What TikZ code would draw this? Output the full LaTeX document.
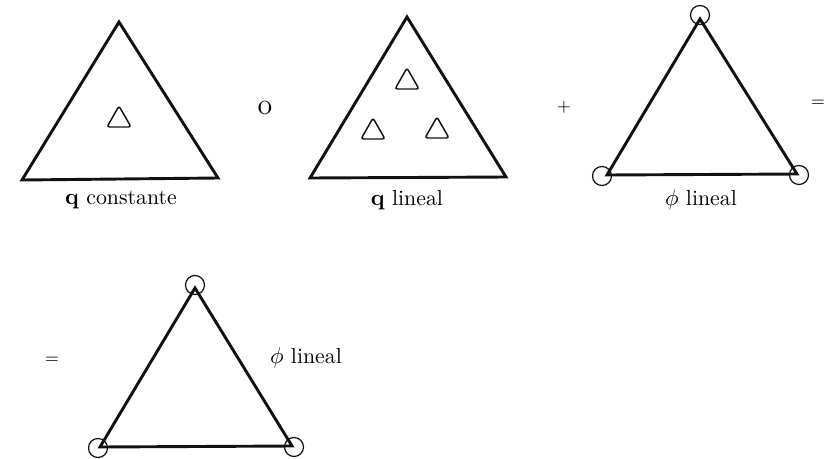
\documentclass[tikz,border=0pt]{standalone}
\usepackage{amsmath,amssymb}
\usepackage{tikz}
\usetikzlibrary{calc}

\begin{document}
\begin{tikzpicture}[
    x={(0.0169cm,0cm)}, y={(0cm,-0.0169cm)},
    every node/.style={font=\fontsize{10.5pt}{12pt}\selectfont, inner sep=1pt},
  ]
    \definecolor{trazo}{HTML}{111111}
    \useasboundingbox (0,0) rectangle (830,459);

    % elemento grande: vertice superior y vertices de la base
    \newcommand{\elemento}[6]{%
      \draw[trazo, line width=1.4pt, line join=miter]
        (#1,#2) -- (#3,#4) -- (#5,#6) -- cycle;
    }
    % punto de cuadratura: triangulito redondeado (vertice superior)
    \newcommand{\punto}[2]{%
      \draw[trazo, line width=0.7pt, rounded corners=1.2pt]
        (#1,#2) -- (#1+12,#2+21) -- (#1-12,#2+21) -- cycle;
    }
    % nodo del elemento: circulo con marca en el vertice
    \newcommand{\nodo}[2]{%
      \draw[trazo, line width=0.6pt] (#1,#2) circle (9.5);
    }

    % -------- q constante --------
    \elemento{119}{22}{22}{180}{218}{178}
    \punto{119}{106}
    \node (qconst) at (121,200) {$\mathbf{q}$ constante};

    \node[font=\Large] (o) at (265,108) {o};

    % -------- q lineal --------
    \elemento{407}{17}{310}{178}{506}{177}
    \foreach \px/\py in {407/68, 373/118, 437/117} {
      \punto{\px}{\py}
    }
    \node (qlin) at (407,200) {$\mathbf{q}$ lineal};

    \node[font=\footnotesize] (mas) at (564,107) {+};

    % -------- phi lineal --------
    \elemento{700}{19}{607}{175}{797}{174}
    \foreach \cx/\cy in {700/15, 602/176, 799/175} {
      \nodo{\cx}{\cy}
    }
    \node (philin) at (701,200) {$\phi$ lineal};

    \node[font=\footnotesize] (igualA) at (818,103) {=};

    % -------- resultado --------
    \node[font=\footnotesize] (igualB) at (52,360) {=};
    \elemento{195}{288}{100}{447}{292}{446}
    \foreach \cx/\cy in {195/285, 98/448, 294/447} {
      \nodo{\cx}{\cy}
    }
    \node (philinB) at (306,358) {$\phi$ lineal};
\end{tikzpicture}
\end{document}
